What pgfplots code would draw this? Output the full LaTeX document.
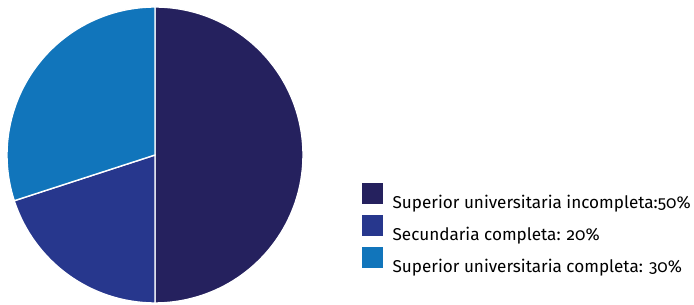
\documentclass[border=0pt]{standalone}
\usepackage{pgfplots}
\pgfplotsset{compat=1.18}
\usepackage{pgfplotstable}
\usepackage{fontspec}
\setmainfont[Numbers=OldStyle]{Fira Sans}
\definecolor{c0}{HTML}{25215E}
\definecolor{c1}{HTML}{27378D}
\definecolor{c2}{HTML}{1175BB}
\pgfplotstableread{
value
50
20
30
}\piedata
\begin{document}
\begin{tikzpicture}
\useasboundingbox (0,0) rectangle (694bp,305bp);
\begin{axis}[
  at={(0,0)}, anchor=south west,
  width=694bp, height=305bp, scale only axis,
  xmin=-155, xmax=539, ymin=-150, ymax=155,
  hide axis, clip=false,
  legend style={at={(axis cs:207,-28)}, anchor=north west, draw=none, fill=none,
    inner sep=0pt, row sep=3.5bp, font=\fontsize{17.2}{20}\selectfont, column sep=0bp},
  legend cell align=left,
]
\pgfplotstablegetrowsof{\piedata}
\pgfmathtruncatemacro{\nrows}{\pgfplotsretval-1}
\def\startang{90}
\pgfplotsforeachungrouped \i in {0,...,\nrows}{%
  \pgfplotstablegetelem{\i}{value}\of\piedata
  \pgfmathsetmacro{\endang}{\startang-3.6*\pgfplotsretval}
  \edef\cmd{\noexpand\fill[c\i, draw=white, line width=1.4bp] (axis cs:0,0) -- ++(\startang:148bp) arc[start angle=\startang, end angle=\endang, radius=148bp] -- cycle;}
  \cmd
  \global\let\startang\endang
}
\addlegendimage{legend image code/.code={\fill[c0] (0bp,-1bp) rectangle (20bp,19bp);}}
\addlegendentry{\hspace{8bp}Superior universitaria incompleta:50\%}
\addlegendimage{legend image code/.code={\fill[c1] (0bp,-1bp) rectangle (20bp,19bp);}}
\addlegendentry{\hspace{8bp}Secundaria completa: 20\%}
\addlegendimage{legend image code/.code={\fill[c2] (0bp,-1bp) rectangle (20bp,19bp);}}
\addlegendentry{\hspace{8bp}Superior universitaria completa: 30\%}
\end{axis}
\end{tikzpicture}
\end{document}
